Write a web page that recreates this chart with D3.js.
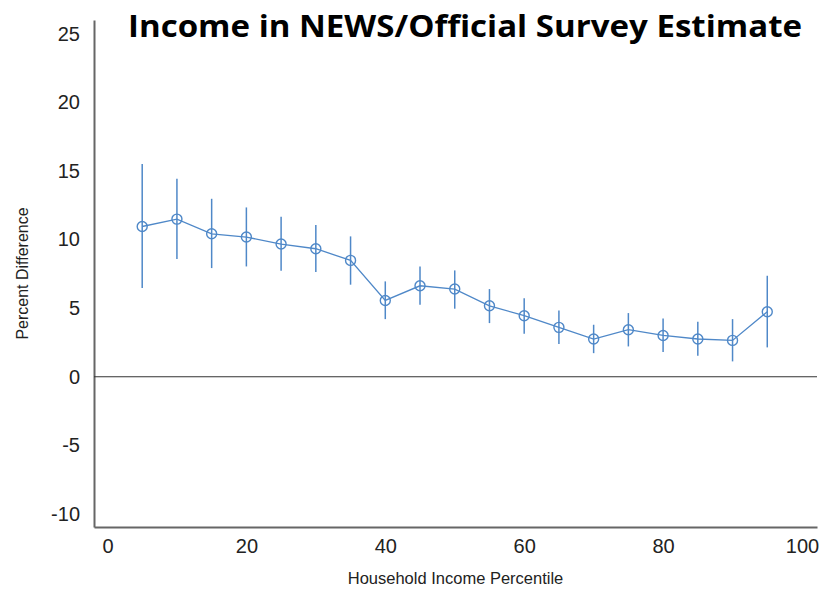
<!DOCTYPE html>
<html>
<head>
<meta charset="utf-8">
<script src="https://cdn.jsdelivr.net/npm/d3@7"></script>
<style>
  body { margin: 0; background: #fff; }
</style>
</head>
<body>
<div id="wrapper"></div>
<script>
// data
const percentiles = [5, 10, 15, 20, 25, 30, 35, 40, 45, 50, 55, 60, 65, 70, 75, 80, 85, 90, 95]
const estimates = [10.95, 11.49, 10.42, 10.18, 9.67, 9.33, 8.48, 5.56, 6.63, 6.39, 5.17, 4.45, 3.6, 2.75, 3.43, 3.01, 2.75, 2.65, 4.74]
const upper = [15.5, 14.43, 12.97, 12.34, 11.66, 11.06, 10.23, 6.95, 8.04, 7.75, 6.39, 5.73, 4.83, 3.79, 4.64, 4.25, 4.01, 4.2, 7.36]
const lower = [6.46, 8.58, 7.92, 8.04, 7.73, 7.63, 6.71, 4.2, 5.25, 4.96, 3.91, 3.13, 2.38, 1.72, 2.21, 1.8, 1.53, 1.12, 2.14]
const xTicks = [0, 20, 40, 60, 80, 100]
const yTicks = [-10, -5, 0, 5, 10, 15, 20, 25]

const data = percentiles.map((p, i) => ({
  x: p, y: estimates[i], hi: upper[i], lo: lower[i]
}))

let dimensions = {
  width: 823,
  height: 589,
  margin: { top: 20, right: 6, bottom: 62, left: 94 },
}
dimensions.boundedWidth = dimensions.width - dimensions.margin.left - dimensions.margin.right
dimensions.boundedHeight = dimensions.height - dimensions.margin.top - dimensions.margin.bottom

const color = "#4f88c8"

const wrapper = d3.select("#wrapper")
  .append("svg")
    .attr("width", dimensions.width)
    .attr("height", dimensions.height)

const bounds = wrapper.append("g")
    .attr("transform", `translate(${dimensions.margin.left},${dimensions.margin.top})`)

const xScale = d3.scaleLinear()
    .domain([-1.94, 102.16])
    .range([0, dimensions.boundedWidth])

const yScale = d3.scaleLinear()
    .domain([-10.95, 26.0])
    .range([dimensions.boundedHeight, 0])

// axes (no tick marks, just labels); plain hyphen for negatives
const yAxisGenerator = d3.axisLeft(yScale)
    .tickValues(yTicks)
    .tickFormat(d => String(d))
    .tickSize(0)
    .tickPadding(14)

const xAxisGenerator = d3.axisBottom(xScale)
    .tickValues(xTicks)
    .tickFormat(d => String(d))
    .tickSize(0)
    .tickPadding(12)

const yAxis = bounds.append("g").call(yAxisGenerator)
const xAxis = bounds.append("g").call(xAxisGenerator)
    .attr("transform", `translate(0,${dimensions.boundedHeight})`)

;[yAxis, xAxis].forEach(ax => {
  ax.select(".domain").attr("stroke", "#666").attr("stroke-width", 2)
  ax.selectAll("text")
    .attr("fill", "#222")
    .style("font-family", "'Liberation Sans', Arial, sans-serif")
    .style("font-size", "20px")
})

// zero line
bounds.append("line")
    .attr("x1", 0)
    .attr("x2", dimensions.boundedWidth)
    .attr("y1", yScale(0))
    .attr("y2", yScale(0))
    .attr("stroke", "#333")
    .attr("stroke-width", 1.2)

// error bars
bounds.selectAll(".err").data(data).enter().append("line")
    .attr("class", "err")
    .attr("x1", d => xScale(d.x))
    .attr("x2", d => xScale(d.x))
    .attr("y1", d => yScale(d.hi))
    .attr("y2", d => yScale(d.lo))
    .attr("stroke", color)
    .attr("stroke-width", 1.5)

const lineGenerator = d3.line()
    .x(d => xScale(d.x))
    .y(d => yScale(d.y))

bounds.append("path")
    .attr("d", lineGenerator(data))
    .attr("fill", "none")
    .attr("stroke", color)
    .attr("stroke-width", 1.3)

bounds.selectAll(".pt").data(data).enter().append("circle")
    .attr("class", "pt")
    .attr("cx", d => xScale(d.x))
    .attr("cy", d => yScale(d.y))
    .attr("r", 5)
    .attr("fill", "none")
    .attr("stroke", color)
    .attr("stroke-width", 1.4)

// axis titles
wrapper.append("text")
    .attr("x", dimensions.margin.left + dimensions.boundedWidth / 2)
    .attr("y", 584)
    .attr("text-anchor", "middle")
    .style("font-family", "'Liberation Sans', Arial, sans-serif")
    .style("font-size", "16.5px")
    .attr("fill", "#222")
    .text("Household Income Percentile")

wrapper.append("text")
    .attr("transform", `translate(28,${dimensions.margin.top + dimensions.boundedHeight / 2}) rotate(-90)`)
    .attr("text-anchor", "middle")
    .style("font-family", "'Liberation Sans', Arial, sans-serif")
    .style("font-size", "16px")
    .attr("fill", "#222")
    .text("Percent Difference")

// title
wrapper.append("text")
    .attr("x", 128)
    .attr("y", 37)
    .style("font-family", "'Open Sans', Lato, sans-serif")
    .style("font-weight", "bold")
    .style("font-size", "31px")
    .attr("textLength", 674)
    .attr("lengthAdjust", "spacingAndGlyphs")
    .attr("fill", "#000")
    .text("Income in NEWS/Official Survey Estimate")
</script>
</body>
</html>
